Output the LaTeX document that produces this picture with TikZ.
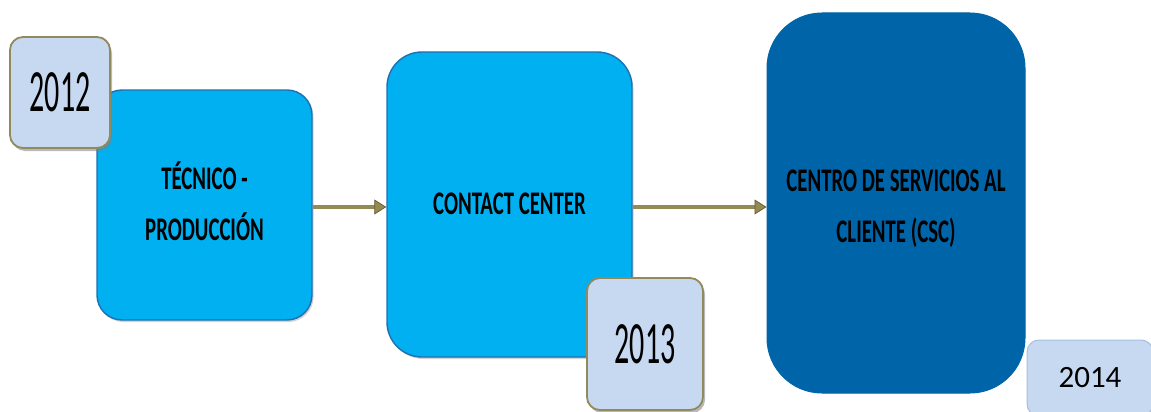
\documentclass[tikz,border=0pt]{standalone}
\usepackage{fontspec}
\setmainfont{Carlito}
\usepackage{graphicx}
\usetikzlibrary{arrows.meta,shadows}

\definecolor{stageblue}{RGB}{0,176,240}
\definecolor{stageedge}{RGB}{30,112,176}
\definecolor{darkstage}{RGB}{0,101,168}
\definecolor{yearfill}{RGB}{198,217,241}
\definecolor{yearedge}{RGB}{146,138,92}
\definecolor{paleedge}{RGB}{165,190,225}
\definecolor{khaki}{RGB}{148,138,84}
\definecolor{khakidark}{RGB}{105,95,55}

% condensed label text, two lines widely spaced
\newcommand{\stagetext}[1]{\scalebox{0.63}[1]{\fontsize{33}{51}\selectfont\bfseries
  \begin{tabular}{@{}c@{}}#1\end{tabular}}}
\newcommand{\yeartext}[1]{\scalebox{0.5}[1]{\fontsize{60}{60}\selectfont #1}}

\tikzset{
  stagebox/.style={draw=stageedge, line width=1.4pt, fill=stageblue,
    inner sep=0pt, text=black,
    drop shadow={shadow xshift=1.5pt, shadow yshift=-2pt, opacity=.35}},
  bigstage/.style={draw=darkstage, line width=1pt, fill=darkstage,
    inner sep=0pt, text=black, rounded corners=55pt},
  yearbox/.style={draw=yearedge, line width=1.8pt, fill=yearfill,
    inner sep=0pt, rounded corners=13pt,
    drop shadow={shadow xshift=2pt, shadow yshift=-3pt, opacity=.55}},
  paleyear/.style={draw=paleedge, line width=1pt, fill=yearfill,
    inner sep=0pt, rounded corners=12pt, font=\fontsize{31}{31}\selectfont},
  flow/.style={draw=khaki, line width=4.5pt,
    -{Triangle[length=12pt,width=15pt,fill=khaki,color=khakidark,line width=0.8pt]}},
}

\begin{document}
\begin{tikzpicture}[x=1pt,y=-1pt]
  \useasboundingbox (0,0) rectangle (1151,412);

  % stages
  \node[stagebox, rounded corners=25pt, minimum width=215pt, minimum height=230pt]
    (tec) at (204.5,205) {\stagetext{TÉCNICO -\\ PRODUCCIÓN}};
  \node[stagebox, rounded corners=35pt, minimum width=245pt, minimum height=305pt]
    (cc) at (509.5,204.5) {\stagetext{CONTACT CENTER}};
  \node[bigstage, minimum width=258pt, minimum height=380pt]
    (csc) at (896,203) {};
  \node (csctext) at (896,207) {\stagetext{CENTRO DE SERVICIOS AL\\ CLIENTE (CSC)}};

  % transitions
  \draw[flow] (tec.east |- 0,207) -- (cc.west |- 0,207);
  \draw[flow] (cc.east |- 0,207) -- (csc.west |- 0,207);

  % years
  \node[yearbox, minimum width=100pt, minimum height=111pt]
    (y12) at (60,92.5) {\yeartext{2012}};
  \node[yearbox, minimum width=116pt, minimum height=132pt]
    (y13) at (645,344) {\raisebox{-4pt}{\yeartext{2013}}};
  \node[paleyear, minimum width=126pt, minimum height=76pt]
    (y14) at (1090,378) {\raisebox{-2pt}{2014}};
\end{tikzpicture}
\end{document}
